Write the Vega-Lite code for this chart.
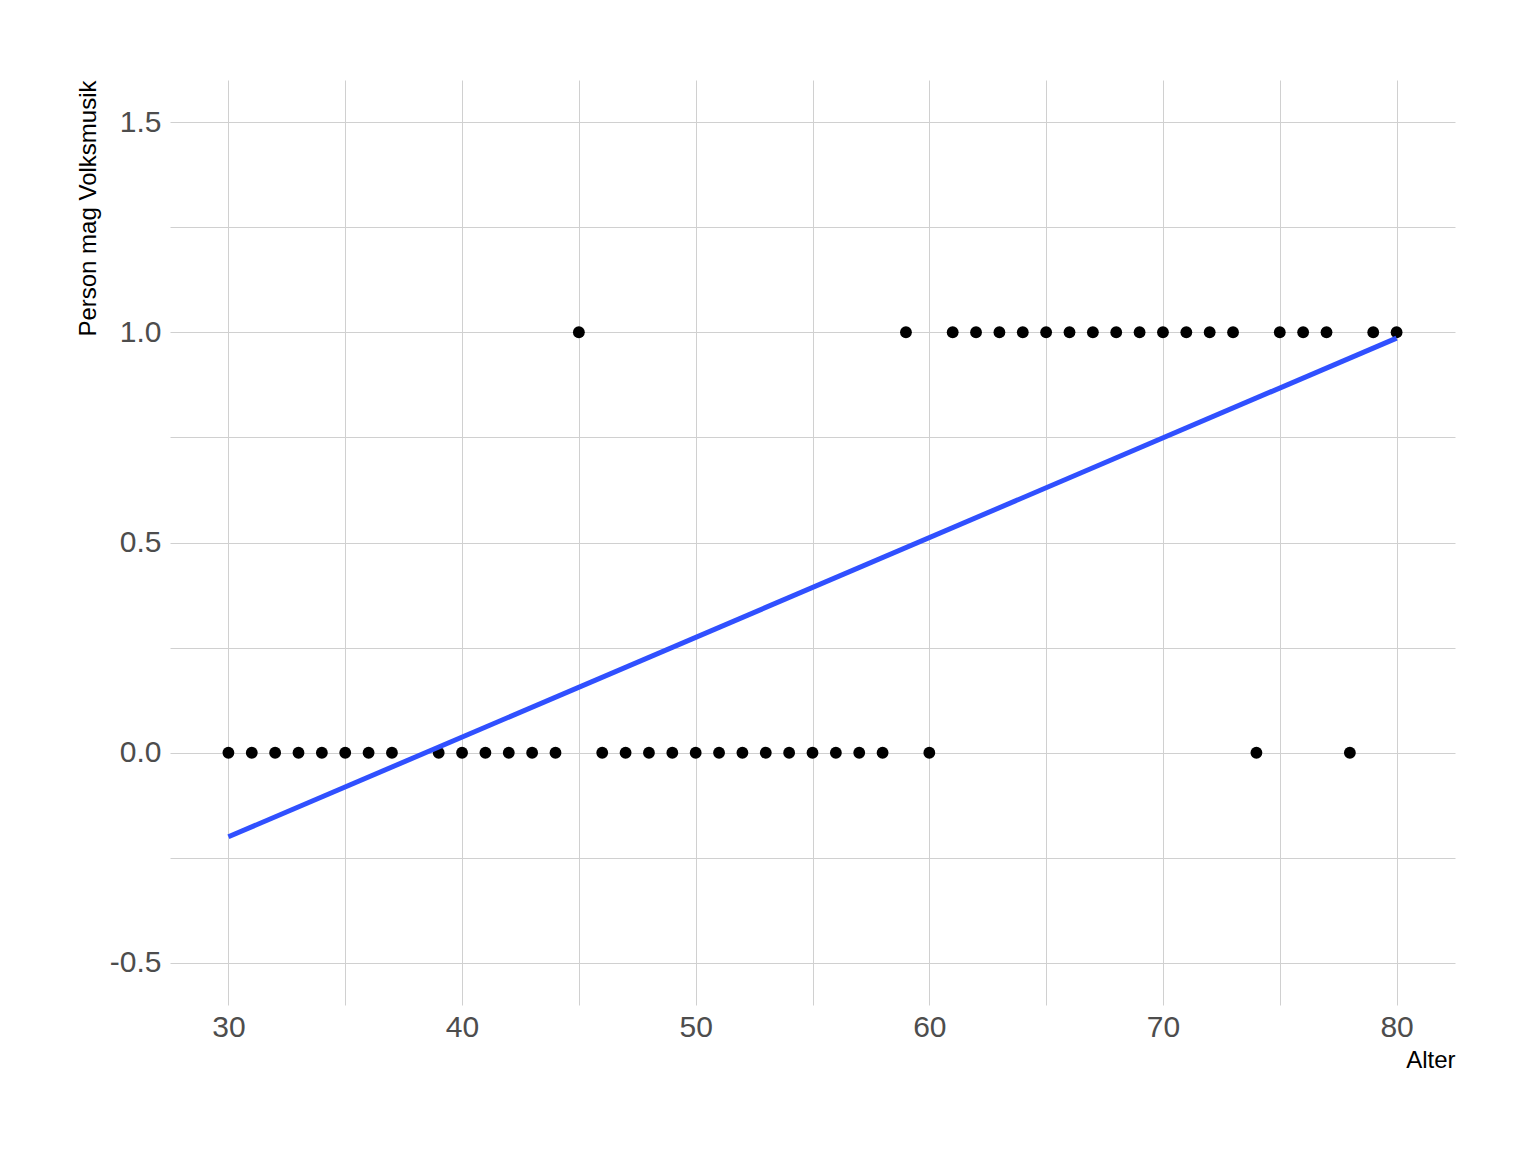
{
  "$schema": "https://vega.github.io/schema/vega-lite/v6.json",
  "autosize": {"type": "none"},
  "padding": {"left": 170, "top": 80, "right": 81, "bottom": 147},
  "width": 1285,
  "height": 925,
  "background": "white",
  "config": {
    "view": {"stroke": null},
    "font": "Liberation Sans",
    "axis": {
      "domain": false,
      "ticks": false,
      "grid": true,
      "gridColor": "#d0d0d0",
      "gridWidth": 1,
      "labelFont": "Liberation Sans",
      "labelFontSize": 30,
      "labelColor": "#4d4d4d",
      "titleFont": "Liberation Sans",
      "titleFontSize": 24,
      "titleFontWeight": "normal",
      "titleColor": "black"
    }
  },
  "datasets": {
    "points": [
      {"Alter": 30, "mag": 0}, {"Alter": 31, "mag": 0}, {"Alter": 32, "mag": 0}, {"Alter": 33, "mag": 0},
      {"Alter": 34, "mag": 0}, {"Alter": 35, "mag": 0}, {"Alter": 36, "mag": 0}, {"Alter": 37, "mag": 0},
      {"Alter": 39, "mag": 0}, {"Alter": 40, "mag": 0}, {"Alter": 41, "mag": 0}, {"Alter": 42, "mag": 0},
      {"Alter": 43, "mag": 0}, {"Alter": 44, "mag": 0}, {"Alter": 45, "mag": 1},
      {"Alter": 46, "mag": 0}, {"Alter": 47, "mag": 0}, {"Alter": 48, "mag": 0}, {"Alter": 49, "mag": 0},
      {"Alter": 50, "mag": 0}, {"Alter": 51, "mag": 0}, {"Alter": 52, "mag": 0}, {"Alter": 53, "mag": 0},
      {"Alter": 54, "mag": 0}, {"Alter": 55, "mag": 0}, {"Alter": 56, "mag": 0}, {"Alter": 57, "mag": 0},
      {"Alter": 58, "mag": 0}, {"Alter": 59, "mag": 1}, {"Alter": 60, "mag": 0},
      {"Alter": 61, "mag": 1}, {"Alter": 62, "mag": 1}, {"Alter": 63, "mag": 1}, {"Alter": 64, "mag": 1},
      {"Alter": 65, "mag": 1}, {"Alter": 66, "mag": 1}, {"Alter": 67, "mag": 1}, {"Alter": 68, "mag": 1},
      {"Alter": 69, "mag": 1}, {"Alter": 70, "mag": 1}, {"Alter": 71, "mag": 1}, {"Alter": 72, "mag": 1},
      {"Alter": 73, "mag": 1}, {"Alter": 74, "mag": 0}, {"Alter": 75, "mag": 1}, {"Alter": 76, "mag": 1},
      {"Alter": 77, "mag": 1}, {"Alter": 78, "mag": 0}, {"Alter": 79, "mag": 1}, {"Alter": 80, "mag": 1}
    ],
    "fit": [
      {"Alter": 30, "mag": -0.2},
      {"Alter": 80, "mag": 0.986}
    ]
  },
  "encoding": {
    "x": {
      "field": "Alter",
      "type": "quantitative",
      "scale": {"domain": [27.5, 82.5], "nice": false, "zero": false},
      "axis": {
        "title": "Alter",
        "values": [30, 35, 40, 45, 50, 55, 60, 65, 70, 75, 80],
        "labelExpr": "datum.value % 10 === 0 ? datum.label : ''",
        "labelPadding": 7,
        "titleX": 1285,
        "titleY": 62,
        "titleAlign": "right",
        "titleBaseline": "alphabetic",
        "titleAnchor": null
      }
    },
    "y": {
      "field": "mag",
      "type": "quantitative",
      "scale": {"domain": [-0.6, 1.6], "nice": false, "zero": false},
      "axis": {
        "title": "Person mag Volksmusik",
        "values": [-0.5, -0.25, 0, 0.25, 0.5, 0.75, 1, 1.25, 1.5],
        "labelExpr": "abs(datum.value * 2 - round(datum.value * 2)) < 0.001 ? replace(format(datum.value, '.1f'), '\u2212', '-') : ''",
        "labelPadding": 9,
        "labelBaseline": "middle",
        "titleAngle": -90,
        "titleX": -75,
        "titleY": 0,
        "titleAlign": "right",
        "titleBaseline": "alphabetic",
        "titleAnchor": null
      }
    }
  },
  "layer": [
    {
      "data": {"name": "points"},
      "mark": {"type": "point", "filled": true, "shape": "circle", "size": 140, "color": "black", "opacity": 1}
    },
    {
      "data": {"name": "fit"},
      "mark": {"type": "line", "color": "#3050FF", "strokeWidth": 5}
    }
  ]
}
